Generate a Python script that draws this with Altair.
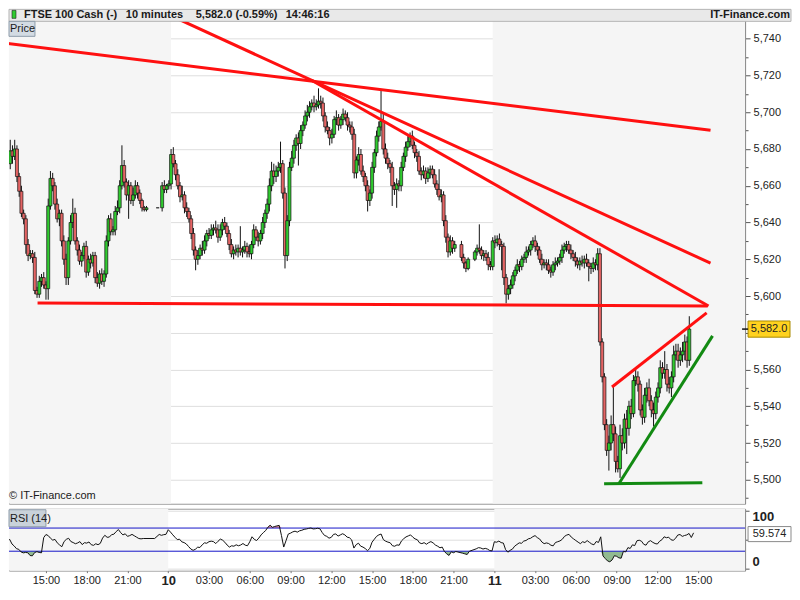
import altair as alt
import pandas as pd

# ---------------- data ----------------
# 10-minute closes, first bar = day 9, 12:00 ; None = no trade in that slot
CLOSE = [
    5679, 5676, 5680, 5665, 5657, 5645, 5642, 5628, 5622, 5623,
    5621, 5603, 5601, 5608, 5610, 5606, 5604, 5649, 5664, 5660,
    5650, 5642, 5645, 5630, 5620, 5610, 5630, 5640, 5645, 5630,
    5625, 5619, 5622, 5627, 5613, 5620, 5618, 5622, 5610, 5607,
    5612, 5608, 5612, 5630, 5642, 5635, 5636, 5646, 5648, 5660,
    5671, 5662, 5655, 5660, 5652, 5655, 5660, 5656, 5652, 5648,
    5647, 5648, None, None, None, None, 5648, None, 5660, 5658,
    5660, 5661, 5677, 5672, 5666, 5660, 5654, 5655, 5648, 5646,
    5642, 5634, 5625, 5620, 5622, 5626, 5625, 5630, 5634, 5633,
    5636, 5637, 5636, 5632, 5636, 5640, 5638, 5634, 5628, 5623,
    5625, 5624, 5626, 5624, 5625, 5627, 5624, 5623, 5628, 5636,
    5632, 5630, 5634, 5640, 5645, 5650, 5660, 5668, 5665, 5668,
    5670, 5672, 5656, 5622, 5641, 5670, 5675, 5682, 5686, 5683,
    5690, 5693, 5698, 5700, 5703, 5705, 5703, 5704, 5706, 5705,
    5698, 5692, 5690, 5686, 5688, 5696, 5697, 5693, 5696, 5699,
    5697, 5693, 5692, 5688, 5667, 5674, 5677, 5668, 5665, 5660,
    5652, 5656, 5670, 5678, 5687, 5692, 5695, 5680, 5675, 5672,
    5670, 5660, 5658, 5661, 5660, 5670, 5676, 5681, 5684, 5687,
    5682, 5678, 5676, 5668, 5666, 5668, 5664, 5667, 5669, 5666,
    5661, 5658, 5654, 5655, 5641, 5632, 5624, 5630, 5626, 5628,
    None, None, 5621, 5618, 5615, 5620, None, None, 5624, 5626,
    5625, 5622, 5623, 5621, 5617, 5616, 5630, 5629, 5631, 5628,
    5627, 5610, 5601, 5604, 5606, 5611, 5614, 5617, 5616, 5620,
    5621, 5624, 5625, 5628, 5630, 5627, 5625, 5620, 5617, 5618,
    5617, 5614, 5613, 5617, 5618, 5619, 5621, 5625, 5627, 5628,
    5625, 5623, 5621, 5619, 5617, 5619, 5618, 5620, 5618, 5616,
    5615, 5618, 5617, 5623, 5575, 5556, 5530, 5516, 5520, 5530,
    5525, 5510, 5506, 5524, 5520, 5533, 5528, 5540, 5536, 5554,
    5556, 5552, 5538, 5534, 5546, 5550, 5543, 5538, 5536, 5545,
    5550, 5561, 5558, 5560, 5552, 5550, 5556, 5568, 5570, 5565,
    5568, 5570, 5575, 5565, 5582,
]
# wick lengths (points above the body top / below the body bottom)
UPPER_WICK = [
    6, 3, 5, 2, 2, 3, 2, 2, 3, 2,   2, 3, 2, 3, 2, 3, 2, 4, 4, 3,
    2, 3, 2, 2, 3, 3, 2, 4, 8, 3,   2, 3, 2, 2, 3, 2, 3, 2, 2, 3,
    2, 3, 2, 3, 2, 3, 2, 3, 4, 3,   11, 3, 2, 3, 2, 4, 3, 2, 2, 1,
    1, 1, 0, 0, 0, 0, 0, 0, 2, 3,   1, 2, 3, 4, 2, 3, 2, 5, 2, 3,
    2, 2, 3, 2, 3, 2, 4, 3, 2, 3,   3, 2, 4, 3, 3, 2, 3, 2, 2, 3,
    2, 3, 2, 12, 2, 3, 2, 4, 2, 3,  2, 3, 2, 3, 2, 3, 4, 5, 4, 3,
    3, 12, 2, 3, 3, 3, 4, 3, 2, 3,  3, 2, 3, 4, 3, 2, 4, 3, 7, 3,
    3, 2, 3, 2, 3, 2, 4, 2, 2, 3,   2, 3, 2, 3, 3, 2, 4, 3, 3, 2,
    3, 2, 3, 2, 3, 3, 17, 4, 3, 3,  2, 3, 2, 3, 2, 3, 2, 3, 3, 2,
    3, 2, 2, 3, 2, 3, 2, 3, 2, 2,   3, 2, 11, 3, 2, 3, 2, 3, 2, 2,
    0, 0, 2, 2, 1, 1, 0, 0, 1, 2,   13, 2, 2, 2, 3, 2, 2, 3, 2, 3,
    2, 2, 2, 2, 3, 2, 2, 3, 2, 2,   2, 3, 2, 2, 2, 3, 2, 2, 3, 2,
    2, 3, 2, 2, 3, 2, 2, 3, 2, 2,   2, 3, 2, 3, 2, 2, 3, 2, 3, 2,
    2, 3, 2, 3, 3, 2, 2, 3, 4, 5,   21, 4, 3, 6, 4, 3, 5, 3, 4, 3,
    4, 3, 2, 3, 4, 3, 5, 3, 4, 3,   3, 4, 3, 10, 3, 4, 3, 5, 4, 4,
    4, 5, 4, 3, 7,
]
LOWER_WICK = [
    3, 4, 2, 3, 3, 2, 3, 5, 3, 2,   3, 2, 2, 2, 3, 2, 6, 6, 2, 3,
    3, 2, 4, 3, 3, 4, 4, 2, 3, 2,   3, 2, 3, 2, 3, 2, 3, 2, 3, 2,
    3, 2, 3, 2, 3, 2, 2, 3, 2, 3,   2, 3, 3, 13, 2, 3, 2, 3, 2, 2,
    1, 1, 0, 0, 0, 0, 0, 0, 2, 2,   2, 2, 3, 2, 3, 2, 3, 2, 3, 3,
    2, 3, 3, 6, 3, 2, 3, 2, 3, 2,   2, 3, 2, 3, 2, 3, 2, 2, 3, 2,
    3, 2, 3, 2, 3, 2, 3, 2, 3, 2,   2, 3, 2, 3, 3, 3, 4, 3, 4, 3,
    3, 3, 3, 7, 3, 3, 2, 3, 3, 12,  3, 3, 2, 3, 3, 2, 3, 2, 2, 3,
    3, 3, 2, 4, 3, 2, 3, 3, 2, 3,   2, 3, 3, 3, 3, 3, 3, 2, 3, 3,
    6, 3, 3, 3, 2, 3, 2, 3, 3, 3,   3, 11, 3, 10, 3, 3, 2, 3, 2, 3,
    2, 3, 3, 2, 3, 2, 3, 2, 3, 2,   2, 3, 2, 3, 3, 3, 3, 2, 3, 2,
    0, 0, 2, 3, 2, 1, 0, 0, 1, 2,   2, 2, 3, 2, 3, 2, 2, 3, 2, 3,
    13, 4, 5, 3, 3, 2, 3, 2, 3, 2,  2, 3, 2, 3, 2, 3, 3, 2, 3, 2,
    3, 2, 3, 2, 3, 2, 2, 3, 2, 3,   2, 3, 2, 3, 2, 3, 2, 3, 2, 8,
    3, 2, 3, 3, 2, 3, 3, 3, 11, 4,  4, 6, 2, 5, 4, 3, 14, 4, 3, 2,
    3, 4, 3, 4, 3, 4, 3, 4, 7, 3,   3, 3, 3, 3, 4, 3, 5, 3, 3, 4,
    3, 4, 5, 4, 3,
]
FIRST_OPEN = 5672.0
START_HOUR = 12.0          # hours counted from day-9 midnight
BAR_HOURS = 1.0 / 6.0      # 10 minutes

# hand-drawn trendlines (hour, price) -> (hour, price)
LINE_H1 = [11.69, 23.45, 34.48, 14.04, 56.90, 57.41, 56.31]
LINE_P1 = [5737.5, 5754.3, 5717.4, 5596.2, 5550.5, 5497.8, 5497.8]
LINE_H2 = [64.25, 64.25, 64.10, 64.03, 63.96, 64.40, 63.64]
LINE_P2 = [5690.2, 5617.9, 5594.6, 5594.6, 5590.8, 5578.3, 5498.4]
LINE_COL = ["#ff1010", "#ff1010", "#ff1010", "#ff1010", "#ff1010", "#128a12", "#128a12"]

SHADE_START = [0, 48]      # day 9 and day 11 are shaded
SHADE_END = [24, 72]
X_TICKS = list(range(15, 64, 3))
PRICE_TICKS = list(range(5490, 5741, 10))
RSI_TICKS = [0, 50, 100]
RSI_LEVELS = [30, 70]
RSI_SEED_GAIN, RSI_SEED_LOSS = 3.0, 3.6
LAST_PRICE = 5582.0
LAST_PRICE_TEXT = "5,582.0"
LAST_RSI = 59.574
LAST_RSI_TEXT = "59.574"
TITLE_PARTS = ["FTSE 100 Cash (-)", "10 minutes", "5,582.0 (-0.59%)", "14:46:16"]
TITLE_RIGHT = "IT-Finance.com"

# ---------------- build tables ----------------
FONT = "Liberation Sans"
UP, DOWN = "#2fcb2f", "#e46464"

rows = []
prev = FIRST_OPEN
for i, c in enumerate(CLOSE):
    if c is None:
        continue
    o = prev
    rows.append(dict(h=START_HOUR + i * BAR_HOURS, o=o, c=c,
                     hi=max(o, c) + UPPER_WICK[i], lo=min(o, c) - LOWER_WICK[i]))
    prev = c
candles = pd.DataFrame(rows)

# RSI(14), Wilder smoothing
ag, al = RSI_SEED_GAIN, RSI_SEED_LOSS
prev = FIRST_OPEN
rsi_rows = []
for r in rows:
    d = r["c"] - prev
    ag = (ag * 13 + max(d, 0)) / 14
    al = (al * 13 + max(-d, 0)) / 14
    v = 100 * ag / (ag + al)
    rsi_rows.append(dict(h=r["h"], rsi=v, lo=min(v, 30), l30=30, hi=max(v, 70), l70=70))
    prev = r["c"]
rsi_df = pd.DataFrame(rsi_rows)

lines = pd.DataFrame(dict(h1=LINE_H1, p1=LINE_P1, h2=LINE_H2, p2=LINE_P2, col=LINE_COL))
shade = pd.DataFrame(dict(s=SHADE_START, e=SHADE_END))

# ---------------- scales / axes ----------------
PW, PH, RH = 737, 495, 62
RIGHT = 784                # right edge of the drawing (page is 800 wide, 8px margins)
X_SCALE = alt.Scale(domain=[12.28, 66.455], nice=False, zero=False)
Y_SCALE = alt.Scale(domain=[5486.96, 5755.98], nice=False, zero=False)
R_SCALE = alt.Scale(domain=[-3.6, 103.4], nice=False, zero=False)

Y_AXIS = alt.Axis(
    orient="right", values=PRICE_TICKS, title=None,
    labelExpr=f"datum.value % 20 == 0 && abs(datum.value - {LAST_PRICE}) > 8 ? format(datum.value, ',') : ''",
    gridOpacity={"condition": {"test": "datum.value % 20 == 0", "value": 1}, "value": 0},
    tickSize={"condition": {"test": "datum.value % 20 == 0", "value": 5}, "value": 3},
    gridColor="#dedede", domainColor="#8a8a8a", tickColor="#555",
    labelFont=FONT, labelFontSize=11, labelColor="#222", labelPadding=3,
)
R_AXIS = alt.Axis(
    orient="right", values=RSI_TICKS, title=None,
    labelExpr="datum.value == 50 ? '' : datum.label",
    labelBaseline={"condition": {"test": "datum.value > 60", "value": "top"}, "value": "bottom"},
    gridColor="#dedede", domainColor="#8a8a8a", tickColor="#555", tickSize=4,
    labelFont=FONT, labelFontSize=13, labelFontWeight="bold", labelColor="#222", labelPadding=3,
)
X_AXIS = alt.Axis(
    values=X_TICKS, title=None, grid=False, domain=False, tickSize=2, tickColor="#777",
    labelExpr="datum.value % 24 == 0 ? toString(9 + datum.value / 24) : "
              "pad(toString(datum.value % 24), 2, '0', 'left') + ':00'",
    labelFontWeight={"condition": {"test": "datum.value % 24 == 0", "value": "bold"}, "value": "normal"},
    labelFontSize={"condition": {"test": "datum.value % 24 == 0", "value": 13}, "value": 11},
    labelFont=FONT, labelColor="#222", labelPadding=2,
)


def X(field):
    return alt.X(field, scale=X_SCALE, axis=None)


def Y(field):
    return alt.Y(field, scale=Y_SCALE, axis=Y_AXIS)


def text_layer(s, x, y, size=11, weight="bold", align="left", color="#1a1a1a"):
    return alt.Chart(pd.DataFrame({"t": [s]})).mark_text(
        align=align, baseline="middle", font=FONT, fontSize=size, fontWeight=weight, color=color
    ).encode(text="t:N", x=alt.value(x), y=alt.value(y))


# ---------------- price panel ----------------
shade_p = alt.Chart(shade).mark_rect(color="#f5f5f5", clip=True).encode(
    x=X("s:Q"), x2="e:Q", y=alt.value(0), y2=alt.value(PH))

wicks = alt.Chart(candles).mark_rule(color="#111", strokeWidth=1, clip=True).encode(
    x=X("h:Q"), y=Y("lo:Q"), y2="hi:Q")

bodies = alt.Chart(candles).mark_bar(size=3, stroke="#111", strokeWidth=0.7, clip=True,
                                     orient="vertical").encode(
    x=X("h:Q"), y=Y("o:Q"), y2="c:Q",
    fill=alt.condition("datum.c >= datum.o", alt.value(UP), alt.value(DOWN)))

trend = alt.Chart(lines).mark_rule(strokeWidth=3, clip=True, strokeCap="butt").encode(
    x=X("h1:Q"), x2="h2:Q", y=Y("p1:Q"), y2="p2:Q", color=alt.Color("col:N", scale=None))

title_bg = alt.Chart(pd.DataFrame({"a": [0]})).mark_rect(
    fill="#e9e9e9", stroke="#b5b5b5", strokeWidth=1).encode(
    x=alt.value(0), x2=alt.value(RIGHT - 1), y=alt.value(0), y2=alt.value(12))

icon = alt.Chart(pd.DataFrame({"a": [0]})).mark_rect(stroke="#222", strokeWidth=0.6).encode(
    x=alt.value(3), x2=alt.value(7), y=alt.value(1), y2=alt.value(9),
    fill=alt.value(UP))

price_box = alt.Chart(pd.DataFrame({"a": [0]})).mark_rect(
    fill="#d3dbe3", stroke="#8f9daa", strokeWidth=1).encode(
    x=alt.value(0), x2=alt.value(26), y=alt.value(12), y2=alt.value(27))

last_df = pd.DataFrame(dict(lo=[LAST_PRICE - 4.4], hi=[LAST_PRICE + 4.4], p=[LAST_PRICE], t=[LAST_PRICE_TEXT]))
last_box = alt.Chart(last_df).mark_rect(fill="#ffd21f", stroke="#a88a00", strokeWidth=1).encode(
    x=alt.value(PW + 3), x2=alt.value(PW + 45), y=Y("lo:Q"), y2="hi:Q")
last_tick = alt.Chart(last_df).mark_rule(color="#111", strokeWidth=1.5).encode(
    x=alt.value(PW - 3), x2=alt.value(PW + 3), y=Y("p:Q"))
last_text = alt.Chart(last_df).mark_text(font=FONT, fontSize=11, color="#222", align="center",
                                         baseline="middle").encode(
    x=alt.value(PW + 24), y=Y("p:Q"), text="t:N")

price = alt.layer(
    shade_p, wicks, bodies, trend, title_bg, icon,
    text_layer(TITLE_PARTS[0], 15, 6),
    text_layer(TITLE_PARTS[1], 117, 6),
    text_layer(TITLE_PARTS[2], 187, 6),
    text_layer(TITLE_PARTS[3], 277, 6),
    text_layer(TITLE_RIGHT, RIGHT - 2, 6, align="right"),
    price_box, text_layer("Price", 1, 20, weight="normal"),
    text_layer("\u00a9 IT-Finance.com", 0, 487, weight="normal"),
    last_box, last_tick, last_text,
).properties(width=PW, height=PH)

# ---------------- RSI panel ----------------
def RX(field):
    return alt.X(field, scale=X_SCALE, axis=X_AXIS)


def RY(field):
    return alt.Y(field, scale=R_SCALE, axis=R_AXIS)


shade_r = alt.Chart(shade).mark_rect(color="#f5f5f5", clip=True).encode(
    x=RX("s:Q"), x2="e:Q", y=alt.value(0), y2=alt.value(RH))
fill_lo = alt.Chart(rsi_df).mark_area(color="#86b486", opacity=0.9, clip=True).encode(
    x=RX("h:Q"), y=RY("lo:Q"), y2="l30:Q")
fill_hi = alt.Chart(rsi_df).mark_area(color="#e08a8a", opacity=0.9, clip=True).encode(
    x=RX("h:Q"), y=RY("hi:Q"), y2="l70:Q")
levels = alt.Chart(pd.DataFrame({"v": RSI_LEVELS})).mark_rule(color="#1515c8", strokeWidth=1).encode(
    y=RY("v:Q"))
rsi_line = alt.Chart(rsi_df).mark_line(color="#111", strokeWidth=1, clip=True).encode(
    x=RX("h:Q"), y=RY("rsi:Q"))
rsi_last = pd.DataFrame(dict(lo=[LAST_RSI - 13], hi=[LAST_RSI + 13], v=[LAST_RSI], t=[LAST_RSI_TEXT]))
rsi_box = alt.Chart(rsi_last).mark_rect(fill="white", stroke="#8a8a8a", strokeWidth=1).encode(
    x=alt.value(PW + 3), x2=alt.value(RIGHT - 1), y=RY("lo:Q"), y2="hi:Q")
rsi_text = alt.Chart(rsi_last).mark_text(font=FONT, fontSize=11, color="#222", align="center",
                                         baseline="middle").encode(
    x=alt.value((PW + 3 + RIGHT - 1) / 2), y=RY("v:Q"), text="t:N")
rsi_lbl_box = alt.Chart(pd.DataFrame({"a": [0]})).mark_rect(
    fill="#c9d2da", stroke="#8f9daa", strokeWidth=1).encode(
    x=alt.value(0), x2=alt.value(37), y=alt.value(1), y2=alt.value(18))

rsi = alt.layer(
    shade_r, fill_lo, fill_hi, levels, rsi_line, rsi_box, rsi_text, rsi_lbl_box,
    text_layer("RSI (14)", 1, 10, weight="normal"),
).properties(width=PW, height=RH)

chart = alt.vconcat(price, rsi, spacing=3).properties(
    padding=0, background="white"
).configure_view(stroke="#9a9a9a", strokeWidth=1)

chart.save("out.html", embed_options={"renderer": "svg", "actions": False})
